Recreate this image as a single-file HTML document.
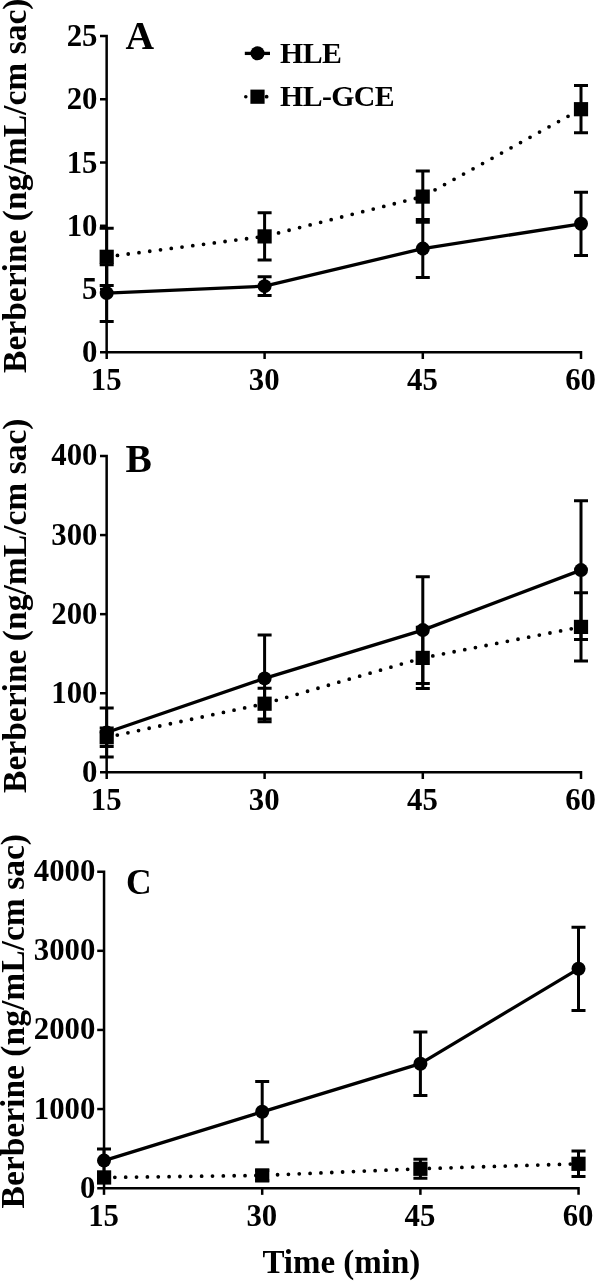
<!DOCTYPE html>
<html><head><meta charset="utf-8"><title>Berberine</title>
<style>
html,body{margin:0;padding:0;background:#fff;}
body{width:596px;height:1281px;overflow:hidden;}
svg{display:block;}
text{font-family:"Liberation Serif", serif;font-weight:bold;fill:#000;}
.t{font-size:30.8px;}
.ti{font-size:33.55px;}
</style></head><body>
<svg width="596" height="1281" viewBox="0 0 596 1281">
<rect width="596" height="1281" fill="#fff"/>
<path d="M100.0 36.0H106.65V352.3" fill="none" stroke="#000" stroke-width="2.5" stroke-linejoin="miter"/>
<path d="M100.0 352.3H581.0V359.0" fill="none" stroke="#000" stroke-width="2.5" stroke-linejoin="miter"/>
<text x="97.5" y="362.4" text-anchor="end" class="t">0</text>
<line x1="100.0" y1="289.04" x2="106.65" y2="289.04" stroke="#000" stroke-width="2.5"/>
<text x="97.5" y="299.1" text-anchor="end" class="t">5</text>
<line x1="100.0" y1="225.78" x2="106.65" y2="225.78" stroke="#000" stroke-width="2.5"/>
<text x="97.5" y="235.9" text-anchor="end" class="t">10</text>
<line x1="100.0" y1="162.52" x2="106.65" y2="162.52" stroke="#000" stroke-width="2.5"/>
<text x="97.5" y="172.6" text-anchor="end" class="t">15</text>
<line x1="100.0" y1="99.26" x2="106.65" y2="99.26" stroke="#000" stroke-width="2.5"/>
<text x="97.5" y="109.4" text-anchor="end" class="t">20</text>
<text x="97.5" y="46.1" text-anchor="end" class="t">25</text>
<line x1="106.7" y1="352.3" x2="106.7" y2="359.0" stroke="#000" stroke-width="2.5"/>
<text x="106.2" y="389.7" text-anchor="middle" class="t">15</text>
<line x1="264.6" y1="352.3" x2="264.6" y2="359.0" stroke="#000" stroke-width="2.5"/>
<text x="264.2" y="389.7" text-anchor="middle" class="t">30</text>
<line x1="422.8" y1="352.3" x2="422.8" y2="359.0" stroke="#000" stroke-width="2.5"/>
<text x="422.4" y="389.7" text-anchor="middle" class="t">45</text>
<text x="580.6" y="389.7" text-anchor="middle" class="t">60</text>
<text x="125.6" y="48.7" style="font-size:39.6px">A</text>
<text transform="translate(26 373) rotate(-90)" class="ti">Berberine (ng/mL/cm sac)</text>
<polyline points="106.7,256.8 264.6,236.4 422.8,196.6 581.0,109.2" fill="none" stroke="#000" stroke-width="3.8" stroke-linecap="round" stroke-dasharray="0 10.85"/>
<polyline points="106.7,293.1 264.6,286.15 422.8,248.6 581.0,223.8" fill="none" stroke="#000" stroke-width="3.3" stroke-linejoin="round"/>
<path d="M106.7 228.2V285.4M99.7 228.2H113.7M99.7 285.4H113.7" stroke="#000" stroke-width="3.0" fill="none"/>
<path d="M264.6 212.8V260.0M257.6 212.8H271.6M257.6 260.0H271.6" stroke="#000" stroke-width="3.0" fill="none"/>
<path d="M422.8 170.9V222.3M415.8 170.9H429.8M415.8 222.3H429.8" stroke="#000" stroke-width="3.0" fill="none"/>
<path d="M581.0 85.6V132.8M574.0 85.6H588.0M574.0 132.8H588.0" stroke="#000" stroke-width="3.0" fill="none"/>
<path d="M106.7 264.7V321.5M99.7 264.7H113.7M99.7 321.5H113.7" stroke="#000" stroke-width="3.0" fill="none"/>
<path d="M264.6 276.8V295.5M257.6 276.8H271.6M257.6 295.5H271.6" stroke="#000" stroke-width="3.0" fill="none"/>
<path d="M422.8 219.5V277.6M415.8 219.5H429.8M415.8 277.6H429.8" stroke="#000" stroke-width="3.0" fill="none"/>
<path d="M581.0 192.2V255.4M574.0 192.2H588.0M574.0 255.4H588.0" stroke="#000" stroke-width="3.0" fill="none"/>
<rect x="99.6" y="249.7" width="14.2" height="14.2" fill="#000"/>
<rect x="257.5" y="229.3" width="14.2" height="14.2" fill="#000"/>
<rect x="415.6" y="189.5" width="14.2" height="14.2" fill="#000"/>
<rect x="573.9" y="102.1" width="14.2" height="14.2" fill="#000"/>
<circle cx="106.7" cy="293.1" r="7.0" fill="#000"/>
<circle cx="264.6" cy="286.15" r="7.0" fill="#000"/>
<circle cx="422.8" cy="248.6" r="7.0" fill="#000"/>
<circle cx="581.0" cy="223.8" r="7.0" fill="#000"/>
<path d="M100.0 456.0H106.65V772.3" fill="none" stroke="#000" stroke-width="2.5" stroke-linejoin="miter"/>
<path d="M100.0 772.3H581.0V779.0" fill="none" stroke="#000" stroke-width="2.5" stroke-linejoin="miter"/>
<text x="97.5" y="781.7" text-anchor="end" class="t">0</text>
<line x1="100.0" y1="693.22" x2="106.65" y2="693.22" stroke="#000" stroke-width="2.5"/>
<text x="97.5" y="702.6" text-anchor="end" class="t">100</text>
<line x1="100.0" y1="614.15" x2="106.65" y2="614.15" stroke="#000" stroke-width="2.5"/>
<text x="97.5" y="623.5" text-anchor="end" class="t">200</text>
<line x1="100.0" y1="535.07" x2="106.65" y2="535.07" stroke="#000" stroke-width="2.5"/>
<text x="97.5" y="544.5" text-anchor="end" class="t">300</text>
<text x="97.5" y="465.4" text-anchor="end" class="t">400</text>
<line x1="106.7" y1="772.3" x2="106.7" y2="779.0" stroke="#000" stroke-width="2.5"/>
<text x="106.2" y="809.7" text-anchor="middle" class="t">15</text>
<line x1="264.6" y1="772.3" x2="264.6" y2="779.0" stroke="#000" stroke-width="2.5"/>
<text x="264.2" y="809.7" text-anchor="middle" class="t">30</text>
<line x1="422.8" y1="772.3" x2="422.8" y2="779.0" stroke="#000" stroke-width="2.5"/>
<text x="422.4" y="809.7" text-anchor="middle" class="t">45</text>
<text x="580.6" y="809.7" text-anchor="middle" class="t">60</text>
<text x="125.4" y="472.3" style="font-size:39.5px">B</text>
<text transform="translate(26 793) rotate(-90)" class="ti">Berberine (ng/mL/cm sac)</text>
<polyline points="106.7,737.3 264.6,703.7 422.8,657.9 581.0,626.9" fill="none" stroke="#000" stroke-width="3.8" stroke-linecap="round" stroke-dasharray="0 10.85"/>
<polyline points="106.7,732.5 264.6,678.4 422.8,630.1 581.0,570.1" fill="none" stroke="#000" stroke-width="3.3" stroke-linejoin="round"/>
<path d="M106.7 728.1V746.5M99.7 728.1H113.7M99.7 746.5H113.7" stroke="#000" stroke-width="3.0" fill="none"/>
<path d="M264.6 688.3V719.1M257.6 688.3H271.6M257.6 719.1H271.6" stroke="#000" stroke-width="3.0" fill="none"/>
<path d="M422.8 627.2V688.6M415.8 627.2H429.8M415.8 688.6H429.8" stroke="#000" stroke-width="3.0" fill="none"/>
<path d="M581.0 592.8V661.0M574.0 592.8H588.0M574.0 661.0H588.0" stroke="#000" stroke-width="3.0" fill="none"/>
<path d="M106.7 708.0V757.0M99.7 708.0H113.7M99.7 757.0H113.7" stroke="#000" stroke-width="3.0" fill="none"/>
<path d="M264.6 635.1V721.7M257.6 635.1H271.6M257.6 721.7H271.6" stroke="#000" stroke-width="3.0" fill="none"/>
<path d="M422.8 576.8V683.4M415.8 576.8H429.8M415.8 683.4H429.8" stroke="#000" stroke-width="3.0" fill="none"/>
<path d="M581.0 500.8V639.4M574.0 500.8H588.0M574.0 639.4H588.0" stroke="#000" stroke-width="3.0" fill="none"/>
<rect x="99.6" y="730.2" width="14.2" height="14.2" fill="#000"/>
<rect x="257.5" y="696.6" width="14.2" height="14.2" fill="#000"/>
<rect x="415.6" y="650.8" width="14.2" height="14.2" fill="#000"/>
<rect x="573.9" y="619.8" width="14.2" height="14.2" fill="#000"/>
<circle cx="106.7" cy="732.5" r="7.0" fill="#000"/>
<circle cx="264.6" cy="678.4" r="7.0" fill="#000"/>
<circle cx="422.8" cy="630.1" r="7.0" fill="#000"/>
<circle cx="581.0" cy="570.1" r="7.0" fill="#000"/>
<path d="M97.2 871.7H104.05V1188.15" fill="none" stroke="#000" stroke-width="2.5" stroke-linejoin="miter"/>
<path d="M97.2 1188.15H578.55V1194.8500000000001" fill="none" stroke="#000" stroke-width="2.5" stroke-linejoin="miter"/>
<text x="95.4" y="1197.7" text-anchor="end" class="t">0</text>
<line x1="97.2" y1="1109.04" x2="104.05" y2="1109.04" stroke="#000" stroke-width="2.5"/>
<text x="95.4" y="1118.5" text-anchor="end" class="t">1000</text>
<line x1="97.2" y1="1029.93" x2="104.05" y2="1029.93" stroke="#000" stroke-width="2.5"/>
<text x="95.4" y="1039.4" text-anchor="end" class="t">2000</text>
<line x1="97.2" y1="950.81" x2="104.05" y2="950.81" stroke="#000" stroke-width="2.5"/>
<text x="95.4" y="960.3" text-anchor="end" class="t">3000</text>
<text x="95.4" y="881.2" text-anchor="end" class="t">4000</text>
<line x1="104.0" y1="1188.15" x2="104.0" y2="1194.8500000000001" stroke="#000" stroke-width="2.5"/>
<text x="103.6" y="1225.6" text-anchor="middle" class="t">15</text>
<line x1="262.2" y1="1188.15" x2="262.2" y2="1194.8500000000001" stroke="#000" stroke-width="2.5"/>
<text x="261.8" y="1225.6" text-anchor="middle" class="t">30</text>
<line x1="420.4" y1="1188.15" x2="420.4" y2="1194.8500000000001" stroke="#000" stroke-width="2.5"/>
<text x="420.0" y="1225.6" text-anchor="middle" class="t">45</text>
<text x="578.1" y="1225.6" text-anchor="middle" class="t">60</text>
<text x="126.1" y="893.5" style="font-size:35.5px">C</text>
<text transform="translate(24 1208.5) rotate(-90)" class="ti">Berberine (ng/mL/cm sac)</text>
<polyline points="104.0,1177.5 262.2,1175.4 420.4,1168.75 578.5,1163.8" fill="none" stroke="#000" stroke-width="3.8" stroke-linecap="round" stroke-dasharray="0 10.85"/>
<polyline points="104.0,1160.6 262.2,1111.8 420.4,1063.7 578.5,968.8" fill="none" stroke="#000" stroke-width="3.3" stroke-linejoin="round"/>
<path d="M104.0 1172.5V1182.5M97.0 1172.5H111.0M97.0 1182.5H111.0" stroke="#000" stroke-width="3.0" fill="none"/>
<path d="M262.2 1170.4V1180.4M255.2 1170.4H269.2M255.2 1180.4H269.2" stroke="#000" stroke-width="3.0" fill="none"/>
<path d="M420.4 1159.3V1178.2M413.4 1159.3H427.4M413.4 1178.2H427.4" stroke="#000" stroke-width="3.0" fill="none"/>
<path d="M578.5 1151.1V1176.5M571.5 1151.1H585.5M571.5 1176.5H585.5" stroke="#000" stroke-width="3.0" fill="none"/>
<path d="M104.0 1148.9V1172.3M97.0 1148.9H111.0M97.0 1172.3H111.0" stroke="#000" stroke-width="3.0" fill="none"/>
<path d="M262.2 1081.6V1142.0M255.2 1081.6H269.2M255.2 1142.0H269.2" stroke="#000" stroke-width="3.0" fill="none"/>
<path d="M420.4 1032.0V1095.4M413.4 1032.0H427.4M413.4 1095.4H427.4" stroke="#000" stroke-width="3.0" fill="none"/>
<path d="M578.5 927.2V1010.4M571.5 927.2H585.5M571.5 1010.4H585.5" stroke="#000" stroke-width="3.0" fill="none"/>
<rect x="97.0" y="1170.4" width="14.2" height="14.2" fill="#000"/>
<rect x="255.1" y="1168.3" width="14.2" height="14.2" fill="#000"/>
<rect x="413.3" y="1161.7" width="14.2" height="14.2" fill="#000"/>
<rect x="571.4" y="1156.7" width="14.2" height="14.2" fill="#000"/>
<circle cx="104.0" cy="1160.6" r="7.0" fill="#000"/>
<circle cx="262.2" cy="1111.8" r="7.0" fill="#000"/>
<circle cx="420.4" cy="1063.7" r="7.0" fill="#000"/>
<circle cx="578.5" cy="968.8" r="7.0" fill="#000"/>
<line x1="244.8" y1="53.4" x2="270" y2="53.4" stroke="#000" stroke-width="3.3"/>
<circle cx="257.5" cy="53.3" r="7.0" fill="#000"/>
<circle cx="245.8" cy="96.7" r="1.8" fill="#000"/><circle cx="266.6" cy="96.7" r="1.9" fill="#000"/>
<rect x="250.4" y="89.60000000000001" width="14.2" height="14.2" fill="#000"/>
<text x="280.1" y="63.4" style="font-size:29.8px;letter-spacing:-0.6px">HLE</text>
<text x="280.1" y="106.4" style="font-size:29.8px;letter-spacing:-0.6px">HL-GCE</text>
<text x="262.4" y="1272.6" style="font-size:33px">Time (min)</text>
</svg>
</body></html>
